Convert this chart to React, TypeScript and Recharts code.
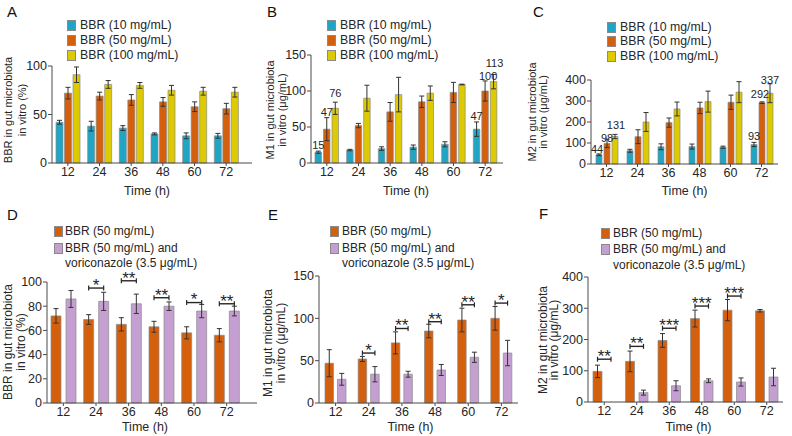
import React from 'react';
import { BarChart, Bar, XAxis, YAxis, ErrorBar, LabelList } from 'recharts';

const times = ['12', '24', '36', '48', '60', '72'];

// A: BBR left in gut microbiota (%)
const bbr10 = [42, 38, 36, 30, 28, 28];
const bbr10Err = [2, 5, 2.5, 1, 3, 2.5];
const bbr50 = [72, 69, 65, 63, 58, 56];
const bbr50Err = [6, 4, 5.5, 4.5, 5, 5.5];
const bbr100 = [91, 81, 80, 75, 74, 73];
const bbr100Err = [8, 4, 3, 5, 4, 5];

// B: M1 (ug/mL)
const m1At10 = [15, 18, 20, 22, 26, 47];
const m1At10Err = [1.5, 1, 2.5, 3, 3.5, 10];
const m1At50 = [47, 52, 71, 85, 98, 100];
const m1At50Err = [16, 3, 13, 8, 14, 14];
const m1At100 = [76, 90, 95, 97, 109, 113];
const m1At100Err = [8.5, 18, 24, 10, 0.5, 10];
const m1Labels10 = ['15', null, null, null, null, '47'];
const m1Labels50 = ['47', null, null, null, null, '100'];
const m1Labels100 = ['76', null, null, null, null, '113'];

// C: M2 (ug/mL)
const m2At10 = [44, 63, 82, 83, 80, 93];
const m2At10Err = [4, 7, 14, 12, 5, 10];
const m2At50 = [98, 130, 197, 267, 294, 292];
const m2At50Err = [20, 33, 22, 27, 34, 4];
const m2At100 = [131, 200, 262, 297, 342, 337];
const m2At100Err = [10, 45, 33, 50, 50, 45];
const m2Labels10 = ['44', null, null, null, null, '93'];
const m2Labels50 = ['98', null, null, null, null, '292'];
const m2Labels100 = ['131', null, null, null, null, '337'];

// D-F: with voriconazole
const bbrVori = [86, 84, 82, 80, 76, 76];
const bbrVoriErr = [7, 7.5, 8, 3.5, 5.5, 4];
const sigD = ['', '*', '**', '**', '*', '**'];
const bracketD = [null, 95, 101, 87, 83, 82];

const m1Vori = [28, 34, 34, 39, 54, 59];
const m1VoriErr = [7, 9, 3.5, 6.5, 6, 15];
const sigE = ['', '*', '**', '**', '**', '*'];
const bracketE = [null, 59, 88, 96, 116, 118];

const m2Vori = [null, 30, 52, 68, 64, 80];
const m2VoriErr = [0, 8, 16, 6, 13, 28];
const sigF = ['**', '**', '***', '***', '***', ''];
const bracketF = [137, 178, 236, 307, 339, null];

const FONT = '"Liberation Sans", Arial, Helvetica, sans-serif';
const BLUE = '#20a5c4';
const ORANGE = '#d4600e';
const YELLOW = '#ddca02';
const PURPLE = '#c69fd2';
const INK = '#262626';

type Series = {
  key: string;
  name: string[];
  color: string;
  values: (number | null)[];
  errs: (number | null)[];
  labels?: (string | null)[];
};

type Spec = {
  letter: string;
  letterX: number;
  letterY: number;
  x0: number; y0: number; w: number; h: number;
  l: number; t: number; r: number; b: number;
  padRight: number;
  barSize: number;
  barGap: number;
  domain: [number, number];
  ticks: number[];
  series: Series[];
  title: [string, string];
  titleX: [number, number];
  titleY: number;
  titleSize: number;
  legendSq: number;
  legendText: number;
  legendRows: number[];
  legendSize: number;
  timeOffset: number;
  timeDx: number;
  nudge?: Record<string, [number, number]>;
  sig?: string[];
  bracket?: (number | null)[];
};

const s10 = (values: number[], errs: number[], labels?: (string | null)[]): Series =>
  ({ key: 'c10', name: ['BBR (10 mg/mL)'], color: BLUE, values, errs, labels });
const s50 = (values: number[], errs: number[], labels?: (string | null)[]): Series =>
  ({ key: 'c50', name: ['BBR (50 mg/mL)'], color: ORANGE, values, errs, labels });
const s100 = (values: number[], errs: number[], labels?: (string | null)[]): Series =>
  ({ key: 'c100', name: ['BBR (100 mg/mL)'], color: YELLOW, values, errs, labels });
const sVori = (values: (number | null)[], errs: (number | null)[]): Series =>
  ({ key: 'vori', name: ['BBR (50 mg/mL) and', 'voriconazole (3.5 \u03bcg/mL)'], color: PURPLE, values, errs });

const panels: Spec[] = [
  {
    letter: 'A', letterX: 7, letterY: 4,
    x0: 0, y0: 0, w: 262, h: 200, l: 52, t: 66, r: 252, b: 163,
    padRight: 10, barSize: 7, barGap: 1.5, domain: [0, 100], ticks: [0, 50, 100],
    series: [s10(bbr10, bbr10Err), s50(bbr50, bbr50Err), s100(bbr100, bbr100Err)],
    title: ['BBR in gut microbiota', 'in vitro (%)'], titleX: [8, 21.5], titleY: 110, titleSize: 11,
    legendSq: 67, legendText: 80, legendRows: [25, 40, 54.5], legendSize: 12.3,
    timeOffset: 5.5, timeDx: -5,
  },
  {
    letter: 'B', letterX: 267, letterY: 4,
    x0: 262, y0: 0, w: 262, h: 200, l: 311, t: 55, r: 503, b: 163,
    padRight: 2, barSize: 6.5, barGap: 2, domain: [0, 150], ticks: [0, 50, 100, 150],
    series: [s10(m1At10, m1At10Err, m1Labels10), s50(m1At50, m1At50Err, m1Labels50), s100(m1At100, m1At100Err, m1Labels100)],
    title: ['M1 in gut microbiota', 'in vitro (\u03bcg/mL)'], titleX: [269.6, 281.6], titleY: 110, titleSize: 11,
    legendSq: 327, legendText: 340, legendRows: [25, 40, 54.5], legendSize: 12.3,
    timeOffset: 5.5, timeDx: -1,
    nudge: { 'c100-0': [0, -3], 'c50-5': [3, 1], 'c100-5': [1, -5] },
  },
  {
    letter: 'C', letterX: 533, letterY: 4,
    x0: 524, y0: 0, w: 268, h: 200, l: 591, t: 80, r: 778, b: 164,
    padRight: 1, barSize: 6, barGap: 2, domain: [0, 400], ticks: [0, 100, 200, 300, 400],
    series: [s10(m2At10, m2At10Err, m2Labels10), s50(m2At50, m2At50Err, m2Labels50), s100(m2At100, m2At100Err, m2Labels100)],
    title: ['M2 in gut microbiota', 'in vitro (\u03bcg/mL)'], titleX: [531.7, 543.3], titleY: 112, titleSize: 11,
    legendSq: 607, legendText: 620, legendRows: [27, 41, 55.5], legendSize: 12.3,
    timeOffset: 5.5, timeDx: 0,
    nudge: { 'c10-0': [-2, 1], 'c50-0': [0, 5], 'c100-0': [1, -3], 'c50-5': [-2, -2], 'c100-5': [0, 2] },
  },
  {
    letter: 'D', letterX: 7, letterY: 207,
    x0: 0, y0: 204, w: 262, h: 232, l: 47, t: 282, r: 257, b: 403,
    padRight: 14, barSize: 10, barGap: 5, domain: [0, 100], ticks: [0, 20, 40, 60, 80, 100],
    series: [s50(bbr50, bbr50Err), sVori(bbrVori, bbrVoriErr)],
    title: ['BBR in gut microbiota', 'in vitro (%)'], titleX: [8.3, 21], titleY: 342, titleSize: 12,
    legendSq: 54, legendText: 65, legendRows: [231, 247.5], legendSize: 12,
    timeOffset: 4.8, timeDx: -7, sig: sigD, bracket: bracketD,
  },
  {
    letter: 'E', letterX: 268, letterY: 207,
    x0: 262, y0: 204, w: 262, h: 232, l: 319, t: 276, r: 518, b: 403,
    padRight: 0, barSize: 8.5, barGap: 4, domain: [0, 150], ticks: [0, 50, 100, 150],
    series: [s50(m1At50, m1At50Err), sVori(m1Vori, m1VoriErr)],
    title: ['M1 in gut microbiota', 'in vitro (\u03bcg/mL)'], titleX: [267.5, 281], titleY: 343, titleSize: 12,
    legendSq: 330, legendText: 342, legendRows: [231, 247.5], legendSize: 12,
    timeOffset: 4.8, timeDx: -8, sig: sigE, bracket: bracketE,
  },
  {
    letter: 'F', letterX: 539, letterY: 206,
    x0: 524, y0: 204, w: 268, h: 232, l: 588, t: 277, r: 783, b: 402,
    padRight: 0, barSize: 9, barGap: 4.5, domain: [0, 400], ticks: [0, 100, 200, 300, 400],
    series: [s50(m2At50, m2At50Err), sVori(m2Vori, m2VoriErr)],
    title: ['M2 in gut microbiota', 'in vitro (\u03bcg/mL)'], titleX: [543, 554], titleY: 340, titleSize: 12,
    legendSq: 601, legendText: 613, legendRows: [233, 249], legendSize: 12,
    timeOffset: 4.8, timeDx: 3, sig: sigF, bracket: bracketF,
  },
];

const rectOf = (p: any) => {
  const vb = p.viewBox && typeof p.viewBox.x === 'number' ? p.viewBox : p;
  return { x: Number(vb.x), y: Number(vb.y), width: Number(vb.width), height: Number(vb.height) };
};

const indexOf = (p: any) =>
  typeof p.index === 'number' ? p.index : times.indexOf(p.payload?.time);

function Panel({ spec }: { spec: Spec }) {
  const { series } = spec;
  const data = times.map((time, i) => {
    const row: Record<string, any> = { time };
    series.forEach((s) => {
      row[s.key] = s.values[i];
      row[s.key + 'Err'] = s.errs[i];
    });
    return row;
  });

  // value printed above the error bar of a few bars (B, C)
  const valueLabel = (s: Series) => (p: any) => {
    const i = indexOf(p);
    const text = s.labels?.[i];
    const v = s.values[i];
    if (text == null || v == null) return null;
    const { x, y, width, height } = rectOf(p);
    const ppu = Math.abs(height) / v;
    const top = y - (s.errs[i] ?? 0) * ppu;
    const [dx, dy] = spec.nudge?.[`${s.key}-${i}`] ?? [0, 0];
    return (
      <text x={x + width / 2 + dx} y={top - 2 + dy} textAnchor="middle" fontSize={11} fill={INK} fontFamily={FONT}>
        {text}
      </text>
    );
  };

  // significance bracket between the two bars of a group (D, E, F)
  const bracketLabel = (p: any) => {
    const i = indexOf(p);
    const lvl = spec.sig?.[i];
    const bv = spec.bracket?.[i];
    const v = series[0].values[i];
    if (!lvl || bv == null || v == null) return null;
    const { x, y, width, height } = rectOf(p);
    const bottom = y + Math.abs(height);
    const ppu = Math.abs(height) / v;
    const by = bottom - bv * ppu;
    const x1 = x + width / 2;
    const x2 = x1 + spec.barSize + spec.barGap;
    return (
      <g>
        <line x1={x1} x2={x2} y1={by} y2={by} stroke={INK} strokeWidth={1.4} />
        <line x1={x1} x2={x1} y1={by - 2.5} y2={by + 2.5} stroke={INK} strokeWidth={1.2} />
        <line x1={x2} x2={x2} y1={by - 2.5} y2={by + 2.5} stroke={INK} strokeWidth={1.2} />
        <text x={(x1 + x2) / 2} y={by + 2.8} textAnchor="middle" fontSize={17} fill={INK} fontFamily={FONT}>
          {lvl}
        </text>
      </g>
    );
  };

  const yTitle = () => (
    <g>
      {spec.title.map((line, k) => {
        const cx = spec.titleX[k] - spec.x0;
        const cy = spec.titleY - spec.y0;
        return (
          <text
            key={k}
            x={cx}
            y={cy}
            transform={`rotate(-90 ${cx} ${cy})`}
            textAnchor="middle"
            dominantBaseline="central"
            fontSize={spec.titleSize}
            fill={INK}
            fontFamily={FONT}
          >
            {line}
          </text>
        );
      })}
    </g>
  );

  return (
    <div style={{ position: 'absolute', left: spec.x0, top: spec.y0, width: spec.w, height: spec.h }}>
      <BarChart
        width={spec.w}
        height={spec.h}
        data={data}
        margin={{ top: spec.t - spec.y0, right: spec.x0 + spec.w - spec.r, bottom: 0, left: 0 }}
        barSize={spec.barSize}
        barGap={spec.barGap}
      >
        <XAxis
          dataKey="time"
          interval={0}
          height={spec.y0 + spec.h - spec.b}
          padding={{ left: 0, right: spec.padRight }}
          tickSize={3}
          tickMargin={1}
          axisLine={{ stroke: '#4a4a4a' }}
          tickLine={{ stroke: '#4a4a4a' }}
          tick={{ fontSize: 12.5, fill: INK, fontFamily: FONT }}
          label={{ value: 'Time (h)', position: 'insideBottom', offset: spec.timeOffset, dx: spec.timeDx, fontSize: 12.5, fill: INK, fontFamily: FONT }}
        />
        <YAxis
          width={spec.l - spec.x0}
          domain={spec.domain}
          ticks={spec.ticks}
          interval={0}
          tickSize={4}
          tickMargin={1}
          axisLine={{ stroke: '#4a4a4a' }}
          tickLine={{ stroke: '#4a4a4a' }}
          tick={{ fontSize: 12.5, fill: INK, fontFamily: FONT }}
          label={yTitle}
        />
        {series.map((s, si) => (
          <Bar key={s.key} dataKey={s.key} name={s.name.join(' ')} fill={s.color} stroke="#8a8a8a" strokeWidth={0.7} isAnimationActive={false}>
            <ErrorBar dataKey={s.key + 'Err'} width={2.5} stroke="#333" strokeWidth={1} isAnimationActive={false} />
            {s.labels ? <LabelList content={valueLabel(s)} /> : null}
            {si === 0 && spec.sig ? <LabelList content={bracketLabel} /> : null}
          </Bar>
        ))}
      </BarChart>
      <div
        style={{
          position: 'absolute', left: spec.letterX - spec.x0, top: spec.letterY - spec.y0,
          fontSize: 15, lineHeight: '15px', color: '#111', fontFamily: FONT,
        }}
      >
        {spec.letter}
      </div>
      {series.map((s, si) => {
        const cy = spec.legendRows[si] - spec.y0;
        return (
          <React.Fragment key={s.key}>
            <div
              style={{
                position: 'absolute', left: spec.legendSq - spec.x0, top: cy - 5, width: 7, height: 9,
                background: s.color, border: '0.8px solid #8a8a8a',
              }}
            />
            {s.name.map((line, k) => (
              <div
                key={k}
                style={{
                  position: 'absolute', left: spec.legendText - spec.x0, top: cy - 7 + k * 15.5,
                  fontSize: spec.legendSize, lineHeight: '14px', color: INK, fontFamily: FONT, whiteSpace: 'nowrap',
                }}
              >
                {line}
              </div>
            ))}
          </React.Fragment>
        );
      })}
    </div>
  );
}

export default function App() {
  return (
    <div style={{ position: 'relative', width: 792, height: 436, background: '#fff', overflow: 'hidden', fontFamily: FONT }}>
      <style>{'body { margin: 0; }'}</style>
      {panels.map((p) => (
        <Panel key={p.letter} spec={p} />
      ))}
    </div>
  );
}
